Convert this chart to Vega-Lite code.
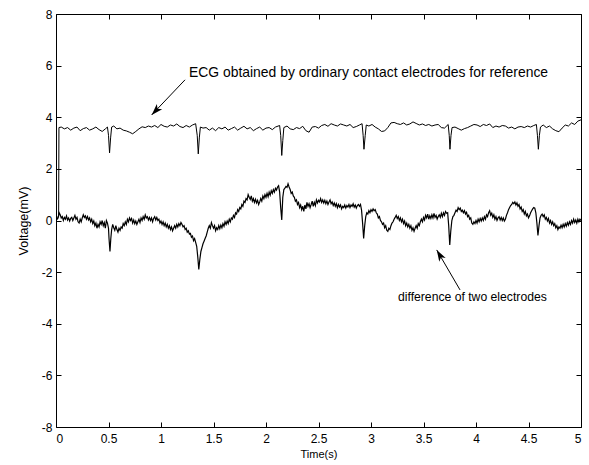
{
"$schema": "https://vega.github.io/schema/vega-lite/v6.json",
"autosize": "none",
"width": 525,
"height": 413,
"padding": {"left": 56, "top": 14, "right": 8, "bottom": 38},
"background": "white",
"config": {
  "view": {"stroke": "black", "strokeWidth": 1},
  "font": "Liberation Sans",
  "axis": {"grid": false, "domain": false, "tickColor": "black", "tickSize": -5, "labelColor": "black", "labelFont": "Liberation Sans", "labelFontSize": 12, "titleFont": "Liberation Sans", "titleFontSize": 11, "titleFontWeight": "normal", "titleColor": "black"}
},
"datasets": {
"ref": [
{"t":0,"v":0.1},{"t":0.025,"v":0.15},{"t":0.028,"v":3.6},{"t":0.05,"v":3.62},{"t":0.08,"v":3.55},{"t":0.11,"v":3.6},{"t":0.14,"v":3.5},{"t":0.17,"v":3.58},{"t":0.2,"v":3.62},{"t":0.23,"v":3.48},{"t":0.26,"v":3.56},{"t":0.29,"v":3.6},{"t":0.32,"v":3.5},{"t":0.35,"v":3.55},{"t":0.38,"v":3.62},{"t":0.41,"v":3.52},{"t":0.44,"v":3.45},{"t":0.47,"v":3.55},{"t":0.49,"v":3.62},{"t":0.5,"v":3.3},{"t":0.51,"v":2.62},{"t":0.52,"v":3.2},{"t":0.53,"v":3.62},{"t":0.55,"v":3.66},{"t":0.58,"v":3.55},{"t":0.61,"v":3.58},{"t":0.64,"v":3.5},{"t":0.67,"v":3.47},{"t":0.7,"v":3.42},{"t":0.73,"v":3.36},{"t":0.76,"v":3.45},{"t":0.79,"v":3.55},{"t":0.82,"v":3.63},{"t":0.85,"v":3.6},{"t":0.88,"v":3.66},{"t":0.91,"v":3.62},{"t":0.94,"v":3.68},{"t":0.97,"v":3.6},{"t":1.0,"v":3.72},{"t":1.03,"v":3.65},{"t":1.06,"v":3.62},{"t":1.09,"v":3.7},{"t":1.12,"v":3.66},{"t":1.15,"v":3.74},{"t":1.18,"v":3.64},{"t":1.21,"v":3.6},{"t":1.24,"v":3.68},{"t":1.27,"v":3.62},{"t":1.3,"v":3.7},{"t":1.33,"v":3.75},{"t":1.345,"v":3.3},{"t":1.355,"v":2.58},{"t":1.365,"v":3.2},{"t":1.375,"v":3.62},{"t":1.4,"v":3.58},{"t":1.43,"v":3.6},{"t":1.46,"v":3.5},{"t":1.49,"v":3.58},{"t":1.52,"v":3.48},{"t":1.55,"v":3.6},{"t":1.58,"v":3.55},{"t":1.61,"v":3.62},{"t":1.64,"v":3.5},{"t":1.67,"v":3.56},{"t":1.7,"v":3.62},{"t":1.73,"v":3.5},{"t":1.76,"v":3.58},{"t":1.79,"v":3.65},{"t":1.82,"v":3.55},{"t":1.85,"v":3.6},{"t":1.88,"v":3.48},{"t":1.91,"v":3.56},{"t":1.94,"v":3.62},{"t":1.97,"v":3.5},{"t":2.0,"v":3.58},{"t":2.03,"v":3.6},{"t":2.06,"v":3.52},{"t":2.09,"v":3.62},{"t":2.13,"v":3.68},{"t":2.14,"v":3.3},{"t":2.15,"v":2.52},{"t":2.16,"v":3.1},{"t":2.17,"v":3.6},{"t":2.2,"v":3.66},{"t":2.23,"v":3.55},{"t":2.26,"v":3.52},{"t":2.29,"v":3.6},{"t":2.32,"v":3.56},{"t":2.35,"v":3.65},{"t":2.38,"v":3.48},{"t":2.41,"v":3.42},{"t":2.44,"v":3.62},{"t":2.47,"v":3.64},{"t":2.5,"v":3.58},{"t":2.53,"v":3.68},{"t":2.56,"v":3.72},{"t":2.59,"v":3.65},{"t":2.62,"v":3.75},{"t":2.65,"v":3.7},{"t":2.68,"v":3.66},{"t":2.71,"v":3.74},{"t":2.74,"v":3.7},{"t":2.77,"v":3.66},{"t":2.8,"v":3.72},{"t":2.83,"v":3.6},{"t":2.86,"v":3.64},{"t":2.89,"v":3.7},{"t":2.915,"v":3.75},{"t":2.925,"v":3.3},{"t":2.933,"v":2.76},{"t":2.945,"v":3.3},{"t":2.955,"v":3.7},{"t":2.98,"v":3.66},{"t":3.01,"v":3.72},{"t":3.04,"v":3.62},{"t":3.07,"v":3.55},{"t":3.1,"v":3.45},{"t":3.13,"v":3.47},{"t":3.16,"v":3.6},{"t":3.19,"v":3.78},{"t":3.22,"v":3.8},{"t":3.25,"v":3.75},{"t":3.28,"v":3.72},{"t":3.31,"v":3.78},{"t":3.34,"v":3.7},{"t":3.37,"v":3.74},{"t":3.4,"v":3.82},{"t":3.43,"v":3.76},{"t":3.46,"v":3.7},{"t":3.49,"v":3.74},{"t":3.52,"v":3.68},{"t":3.55,"v":3.72},{"t":3.58,"v":3.66},{"t":3.61,"v":3.7},{"t":3.64,"v":3.72},{"t":3.67,"v":3.6},{"t":3.7,"v":3.58},{"t":3.735,"v":3.72},{"t":3.745,"v":3.3},{"t":3.752,"v":2.76},{"t":3.762,"v":3.3},{"t":3.772,"v":3.6},{"t":3.8,"v":3.62},{"t":3.83,"v":3.56},{"t":3.86,"v":3.5},{"t":3.89,"v":3.56},{"t":3.92,"v":3.6},{"t":3.95,"v":3.66},{"t":3.98,"v":3.72},{"t":4.01,"v":3.7},{"t":4.04,"v":3.64},{"t":4.07,"v":3.72},{"t":4.1,"v":3.68},{"t":4.13,"v":3.74},{"t":4.16,"v":3.6},{"t":4.19,"v":3.66},{"t":4.22,"v":3.62},{"t":4.25,"v":3.68},{"t":4.28,"v":3.66},{"t":4.31,"v":3.58},{"t":4.34,"v":3.62},{"t":4.37,"v":3.55},{"t":4.4,"v":3.62},{"t":4.43,"v":3.64},{"t":4.46,"v":3.6},{"t":4.49,"v":3.66},{"t":4.52,"v":3.62},{"t":4.55,"v":3.68},{"t":4.575,"v":3.72},{"t":4.585,"v":3.3},{"t":4.594,"v":2.76},{"t":4.604,"v":3.3},{"t":4.614,"v":3.62},{"t":4.64,"v":3.7},{"t":4.67,"v":3.6},{"t":4.7,"v":3.66},{"t":4.73,"v":3.55},{"t":4.76,"v":3.48},{"t":4.79,"v":3.44},{"t":4.82,"v":3.58},{"t":4.85,"v":3.7},{"t":4.88,"v":3.66},{"t":4.91,"v":3.78},{"t":4.94,"v":3.72},{"t":4.97,"v":3.85},{"t":5.0,"v":3.9}
],
"diff": [
{"t":0.0,"v":0.02},{"t":0.01,"v":0.05},{"t":0.02,"v":0.1},{"t":0.03,"v":0.3},{"t":0.04,"v":0.22},{"t":0.05,"v":0.1},{"t":0.06,"v":0.15},{"t":0.07,"v":0.0},{"t":0.08,"v":0.12},{"t":0.09,"v":0.05},{"t":0.1,"v":0.18},{"t":0.11,"v":0.02},{"t":0.12,"v":0.1},{"t":0.13,"v":-0.02},{"t":0.14,"v":0.08},{"t":0.15,"v":0.12},{"t":0.16,"v":0.0},{"t":0.17,"v":0.1},{"t":0.18,"v":0.2},{"t":0.19,"v":0.05},{"t":0.2,"v":0.12},{"t":0.21,"v":-0.05},{"t":0.22,"v":-0.1},{"t":0.23,"v":0.05},{"t":0.24,"v":-0.05},{"t":0.25,"v":0.1},{"t":0.26,"v":0.22},{"t":0.27,"v":0.12},{"t":0.28,"v":0.18},{"t":0.29,"v":0.05},{"t":0.3,"v":0.15},{"t":0.31,"v":0.02},{"t":0.32,"v":0.1},{"t":0.33,"v":-0.05},{"t":0.34,"v":0.05},{"t":0.35,"v":-0.12},{"t":0.36,"v":-0.02},{"t":0.37,"v":-0.2},{"t":0.38,"v":-0.1},{"t":0.39,"v":-0.3},{"t":0.4,"v":-0.15},{"t":0.41,"v":-0.25},{"t":0.42,"v":-0.05},{"t":0.43,"v":-0.15},{"t":0.44,"v":0.0},{"t":0.45,"v":-0.2},{"t":0.46,"v":-0.08},{"t":0.47,"v":-0.3},{"t":0.48,"v":0.0},{"t":0.49,"v":-0.1},{"t":0.5,"v":-0.3},{"t":0.505,"v":-0.7},{"t":0.514,"v":-1.2},{"t":0.522,"v":-0.7},{"t":0.53,"v":-0.35},{"t":0.54,"v":-0.15},{"t":0.55,"v":-0.28},{"t":0.56,"v":-0.38},{"t":0.57,"v":-0.2},{"t":0.58,"v":-0.35},{"t":0.59,"v":-0.45},{"t":0.6,"v":-0.3},{"t":0.61,"v":-0.38},{"t":0.62,"v":-0.25},{"t":0.63,"v":-0.3},{"t":0.64,"v":-0.12},{"t":0.65,"v":-0.2},{"t":0.66,"v":-0.05},{"t":0.67,"v":-0.15},{"t":0.68,"v":0.05},{"t":0.69,"v":-0.05},{"t":0.7,"v":0.1},{"t":0.71,"v":0.0},{"t":0.72,"v":0.08},{"t":0.73,"v":-0.1},{"t":0.74,"v":0.02},{"t":0.75,"v":-0.12},{"t":0.76,"v":-0.02},{"t":0.77,"v":-0.15},{"t":0.78,"v":-0.05},{"t":0.79,"v":0.05},{"t":0.8,"v":-0.08},{"t":0.81,"v":0.1},{"t":0.82,"v":0.0},{"t":0.83,"v":0.15},{"t":0.84,"v":0.05},{"t":0.85,"v":0.22},{"t":0.86,"v":0.1},{"t":0.87,"v":0.15},{"t":0.88,"v":0.02},{"t":0.89,"v":0.12},{"t":0.9,"v":0.0},{"t":0.91,"v":0.1},{"t":0.92,"v":-0.05},{"t":0.93,"v":0.08},{"t":0.94,"v":0.15},{"t":0.95,"v":0.02},{"t":0.96,"v":0.12},{"t":0.97,"v":0.0},{"t":0.98,"v":0.05},{"t":0.99,"v":-0.1},{"t":1.0,"v":-0.02},{"t":1.01,"v":-0.15},{"t":1.02,"v":-0.05},{"t":1.03,"v":-0.2},{"t":1.04,"v":-0.1},{"t":1.05,"v":-0.25},{"t":1.06,"v":-0.15},{"t":1.07,"v":-0.3},{"t":1.08,"v":-0.2},{"t":1.09,"v":-0.35},{"t":1.1,"v":-0.25},{"t":1.11,"v":-0.4},{"t":1.12,"v":-0.3},{"t":1.13,"v":-0.2},{"t":1.14,"v":-0.3},{"t":1.15,"v":-0.15},{"t":1.16,"v":-0.25},{"t":1.17,"v":-0.12},{"t":1.18,"v":-0.2},{"t":1.19,"v":-0.08},{"t":1.2,"v":-0.15},{"t":1.21,"v":-0.25},{"t":1.22,"v":-0.2},{"t":1.23,"v":-0.35},{"t":1.24,"v":-0.3},{"t":1.25,"v":-0.45},{"t":1.26,"v":-0.4},{"t":1.27,"v":-0.52},{"t":1.28,"v":-0.5},{"t":1.29,"v":-0.65},{"t":1.3,"v":-0.6},{"t":1.31,"v":-0.78},{"t":1.32,"v":-0.7},{"t":1.33,"v":-0.85},{"t":1.34,"v":-1.0},{"t":1.35,"v":-1.4},{"t":1.36,"v":-1.9},{"t":1.37,"v":-1.5},{"t":1.38,"v":-1.2},{"t":1.39,"v":-1.05},{"t":1.4,"v":-0.9},{"t":1.41,"v":-0.8},{"t":1.42,"v":-0.7},{"t":1.43,"v":-0.6},{"t":1.44,"v":-0.45},{"t":1.45,"v":-0.3},{"t":1.46,"v":-0.2},{"t":1.47,"v":-0.3},{"t":1.48,"v":-0.08},{"t":1.49,"v":-0.2},{"t":1.5,"v":-0.3},{"t":1.51,"v":-0.2},{"t":1.52,"v":-0.4},{"t":1.53,"v":-0.28},{"t":1.54,"v":-0.35},{"t":1.55,"v":-0.2},{"t":1.56,"v":-0.32},{"t":1.57,"v":-0.18},{"t":1.58,"v":-0.28},{"t":1.59,"v":-0.12},{"t":1.6,"v":-0.22},{"t":1.61,"v":-0.05},{"t":1.62,"v":-0.15},{"t":1.63,"v":-0.02},{"t":1.64,"v":-0.12},{"t":1.65,"v":0.05},{"t":1.66,"v":-0.05},{"t":1.67,"v":0.1},{"t":1.68,"v":0.05},{"t":1.69,"v":0.2},{"t":1.7,"v":0.12},{"t":1.71,"v":0.3},{"t":1.72,"v":0.25},{"t":1.73,"v":0.42},{"t":1.74,"v":0.35},{"t":1.75,"v":0.5},{"t":1.76,"v":0.45},{"t":1.77,"v":0.62},{"t":1.78,"v":0.55},{"t":1.79,"v":0.75},{"t":1.8,"v":0.7},{"t":1.81,"v":0.85},{"t":1.82,"v":0.8},{"t":1.83,"v":1.0},{"t":1.84,"v":0.9},{"t":1.85,"v":0.82},{"t":1.86,"v":0.95},{"t":1.87,"v":0.75},{"t":1.88,"v":0.85},{"t":1.89,"v":0.7},{"t":1.9,"v":0.82},{"t":1.91,"v":0.68},{"t":1.92,"v":0.78},{"t":1.93,"v":0.62},{"t":1.94,"v":0.72},{"t":1.95,"v":0.85},{"t":1.96,"v":0.75},{"t":1.97,"v":0.95},{"t":1.98,"v":0.85},{"t":1.99,"v":1.0},{"t":2.0,"v":0.9},{"t":2.01,"v":1.05},{"t":2.02,"v":0.92},{"t":2.03,"v":1.1},{"t":2.04,"v":0.98},{"t":2.05,"v":1.15},{"t":2.06,"v":1.05},{"t":2.07,"v":1.2},{"t":2.08,"v":1.1},{"t":2.09,"v":1.25},{"t":2.1,"v":1.18},{"t":2.11,"v":1.3},{"t":2.12,"v":1.35},{"t":2.13,"v":1.1},{"t":2.14,"v":0.5},{"t":2.15,"v":0.02},{"t":2.16,"v":0.9},{"t":2.17,"v":1.2},{"t":2.18,"v":1.25},{"t":2.19,"v":1.32},{"t":2.2,"v":1.28},{"t":2.21,"v":1.42},{"t":2.22,"v":1.3},{"t":2.23,"v":1.2},{"t":2.24,"v":1.05},{"t":2.25,"v":1.1},{"t":2.26,"v":0.95},{"t":2.27,"v":0.9},{"t":2.28,"v":0.75},{"t":2.29,"v":0.8},{"t":2.3,"v":0.62},{"t":2.31,"v":0.7},{"t":2.32,"v":0.5},{"t":2.33,"v":0.6},{"t":2.34,"v":0.42},{"t":2.35,"v":0.55},{"t":2.36,"v":0.35},{"t":2.37,"v":0.6},{"t":2.38,"v":0.45},{"t":2.39,"v":0.7},{"t":2.4,"v":0.55},{"t":2.41,"v":0.65},{"t":2.42,"v":0.5},{"t":2.43,"v":0.62},{"t":2.44,"v":0.75},{"t":2.45,"v":0.55},{"t":2.46,"v":0.7},{"t":2.47,"v":0.58},{"t":2.48,"v":0.8},{"t":2.49,"v":0.68},{"t":2.5,"v":0.78},{"t":2.51,"v":0.72},{"t":2.52,"v":0.85},{"t":2.53,"v":0.7},{"t":2.54,"v":0.8},{"t":2.55,"v":0.68},{"t":2.56,"v":0.78},{"t":2.57,"v":0.65},{"t":2.58,"v":0.75},{"t":2.59,"v":0.62},{"t":2.6,"v":0.72},{"t":2.61,"v":0.8},{"t":2.62,"v":0.65},{"t":2.63,"v":0.72},{"t":2.64,"v":0.58},{"t":2.65,"v":0.68},{"t":2.66,"v":0.55},{"t":2.67,"v":0.65},{"t":2.68,"v":0.5},{"t":2.69,"v":0.62},{"t":2.7,"v":0.52},{"t":2.71,"v":0.6},{"t":2.72,"v":0.45},{"t":2.73,"v":0.55},{"t":2.74,"v":0.5},{"t":2.75,"v":0.6},{"t":2.76,"v":0.48},{"t":2.77,"v":0.58},{"t":2.78,"v":0.52},{"t":2.79,"v":0.62},{"t":2.8,"v":0.5},{"t":2.81,"v":0.6},{"t":2.82,"v":0.55},{"t":2.83,"v":0.65},{"t":2.84,"v":0.52},{"t":2.85,"v":0.6},{"t":2.86,"v":0.48},{"t":2.87,"v":0.58},{"t":2.88,"v":0.62},{"t":2.89,"v":0.55},{"t":2.9,"v":0.62},{"t":2.91,"v":0.4},{"t":2.92,"v":-0.1},{"t":2.93,"v":-0.7},{"t":2.94,"v":-0.2},{"t":2.95,"v":0.15},{"t":2.96,"v":0.3},{"t":2.97,"v":0.25},{"t":2.98,"v":0.38},{"t":2.99,"v":0.3},{"t":3.0,"v":0.42},{"t":3.01,"v":0.35},{"t":3.02,"v":0.45},{"t":3.03,"v":0.38},{"t":3.04,"v":0.42},{"t":3.05,"v":0.3},{"t":3.06,"v":0.25},{"t":3.07,"v":0.1},{"t":3.08,"v":0.15},{"t":3.09,"v":0.0},{"t":3.1,"v":-0.05},{"t":3.11,"v":-0.15},{"t":3.12,"v":-0.1},{"t":3.13,"v":-0.28},{"t":3.14,"v":-0.2},{"t":3.15,"v":-0.38},{"t":3.16,"v":-0.42},{"t":3.17,"v":-0.3},{"t":3.18,"v":-0.35},{"t":3.19,"v":-0.2},{"t":3.2,"v":-0.1},{"t":3.21,"v":-0.05},{"t":3.22,"v":0.05},{"t":3.23,"v":0.12},{"t":3.24,"v":0.2},{"t":3.25,"v":0.08},{"t":3.26,"v":0.15},{"t":3.27,"v":0.0},{"t":3.28,"v":0.1},{"t":3.29,"v":-0.05},{"t":3.3,"v":0.05},{"t":3.31,"v":-0.12},{"t":3.32,"v":-0.02},{"t":3.33,"v":-0.2},{"t":3.34,"v":-0.1},{"t":3.35,"v":-0.25},{"t":3.36,"v":-0.15},{"t":3.37,"v":-0.3},{"t":3.38,"v":-0.2},{"t":3.39,"v":-0.38},{"t":3.4,"v":-0.28},{"t":3.41,"v":-0.42},{"t":3.42,"v":-0.3},{"t":3.43,"v":-0.2},{"t":3.44,"v":-0.3},{"t":3.45,"v":-0.12},{"t":3.46,"v":-0.2},{"t":3.47,"v":-0.05},{"t":3.48,"v":0.05},{"t":3.49,"v":-0.05},{"t":3.5,"v":0.12},{"t":3.51,"v":0.02},{"t":3.52,"v":0.2},{"t":3.53,"v":0.1},{"t":3.54,"v":0.25},{"t":3.55,"v":0.05},{"t":3.56,"v":0.18},{"t":3.57,"v":0.08},{"t":3.58,"v":0.22},{"t":3.59,"v":0.1},{"t":3.6,"v":0.28},{"t":3.61,"v":0.12},{"t":3.62,"v":0.2},{"t":3.63,"v":0.05},{"t":3.64,"v":0.15},{"t":3.65,"v":0.22},{"t":3.66,"v":0.12},{"t":3.67,"v":0.28},{"t":3.68,"v":0.15},{"t":3.69,"v":0.3},{"t":3.7,"v":0.2},{"t":3.71,"v":0.35},{"t":3.72,"v":0.28},{"t":3.73,"v":0.3},{"t":3.74,"v":-0.2},{"t":3.75,"v":-0.95},{"t":3.76,"v":-0.4},{"t":3.77,"v":0.0},{"t":3.78,"v":0.15},{"t":3.79,"v":0.2},{"t":3.8,"v":0.3},{"t":3.81,"v":0.4},{"t":3.82,"v":0.35},{"t":3.83,"v":0.5},{"t":3.84,"v":0.42},{"t":3.85,"v":0.48},{"t":3.86,"v":0.35},{"t":3.87,"v":0.4},{"t":3.88,"v":0.3},{"t":3.89,"v":0.38},{"t":3.9,"v":0.25},{"t":3.91,"v":0.32},{"t":3.92,"v":0.15},{"t":3.93,"v":0.2},{"t":3.94,"v":0.05},{"t":3.95,"v":0.1},{"t":3.96,"v":-0.1},{"t":3.97,"v":-0.15},{"t":3.98,"v":-0.05},{"t":3.99,"v":-0.12},{"t":4.0,"v":0.0},{"t":4.01,"v":-0.1},{"t":4.02,"v":0.05},{"t":4.03,"v":-0.05},{"t":4.04,"v":0.08},{"t":4.05,"v":-0.02},{"t":4.06,"v":0.1},{"t":4.07,"v":0.0},{"t":4.08,"v":0.15},{"t":4.09,"v":0.05},{"t":4.1,"v":0.22},{"t":4.11,"v":0.15},{"t":4.12,"v":0.3},{"t":4.13,"v":0.38},{"t":4.14,"v":0.2},{"t":4.15,"v":0.28},{"t":4.16,"v":0.12},{"t":4.17,"v":0.22},{"t":4.18,"v":0.05},{"t":4.19,"v":0.15},{"t":4.2,"v":0.0},{"t":4.21,"v":0.1},{"t":4.22,"v":0.15},{"t":4.23,"v":0.02},{"t":4.24,"v":0.12},{"t":4.25,"v":0.0},{"t":4.26,"v":0.1},{"t":4.27,"v":-0.02},{"t":4.28,"v":0.05},{"t":4.29,"v":0.2},{"t":4.3,"v":0.3},{"t":4.31,"v":0.42},{"t":4.32,"v":0.5},{"t":4.33,"v":0.58},{"t":4.34,"v":0.62},{"t":4.35,"v":0.7},{"t":4.36,"v":0.65},{"t":4.37,"v":0.72},{"t":4.38,"v":0.6},{"t":4.39,"v":0.68},{"t":4.4,"v":0.55},{"t":4.41,"v":0.62},{"t":4.42,"v":0.45},{"t":4.43,"v":0.52},{"t":4.44,"v":0.35},{"t":4.45,"v":0.42},{"t":4.46,"v":0.25},{"t":4.47,"v":0.35},{"t":4.48,"v":0.18},{"t":4.49,"v":0.25},{"t":4.5,"v":0.1},{"t":4.51,"v":0.18},{"t":4.52,"v":0.3},{"t":4.53,"v":0.38},{"t":4.54,"v":0.45},{"t":4.55,"v":0.5},{"t":4.56,"v":0.48},{"t":4.57,"v":0.3},{"t":4.58,"v":-0.1},{"t":4.59,"v":-0.58},{"t":4.6,"v":-0.2},{"t":4.61,"v":0.1},{"t":4.62,"v":0.2},{"t":4.63,"v":0.25},{"t":4.64,"v":0.15},{"t":4.65,"v":0.22},{"t":4.66,"v":0.05},{"t":4.67,"v":0.12},{"t":4.68,"v":-0.02},{"t":4.69,"v":0.08},{"t":4.7,"v":-0.1},{"t":4.71,"v":0.0},{"t":4.72,"v":-0.15},{"t":4.73,"v":-0.05},{"t":4.74,"v":-0.2},{"t":4.75,"v":-0.12},{"t":4.76,"v":-0.28},{"t":4.77,"v":-0.2},{"t":4.78,"v":-0.35},{"t":4.79,"v":-0.25},{"t":4.8,"v":-0.3},{"t":4.81,"v":-0.18},{"t":4.82,"v":-0.28},{"t":4.83,"v":-0.15},{"t":4.84,"v":-0.25},{"t":4.85,"v":-0.12},{"t":4.86,"v":-0.22},{"t":4.87,"v":-0.08},{"t":4.88,"v":-0.18},{"t":4.89,"v":-0.05},{"t":4.9,"v":-0.15},{"t":4.91,"v":0.0},{"t":4.92,"v":-0.1},{"t":4.93,"v":0.05},{"t":4.94,"v":-0.08},{"t":4.95,"v":0.02},{"t":4.96,"v":-0.1},{"t":4.97,"v":0.05},{"t":4.98,"v":-0.05},{"t":4.99,"v":0.05},{"t":5.0,"v":0.0}
],
"arrows": [
{"t":1.229,"v":5.45,"t2":0.911,"v2":4.09,"angle":223.6},
{"t":3.848,"v":-2.69,"t2":3.626,"v2":-1.14,"angle":329.8}
]
},
"layer": [
{
  "data": {"name": "diff"},
  "mark": {"type": "line", "color": "black", "strokeWidth": 1.2, "clip": true},
  "encoding": {
    "x": {"field": "t", "type": "quantitative", "scale": {"domain": [0, 5], "nice": false, "zero": false},
      "axis": {"orient": "bottom", "values": [0,0.5,1,1.5,2,2.5,3,3.5,4,4.5,5], "labelExpr": "toString(datum.value)", "labelPadding": 11, "title": "Time(s)", "titlePadding": 4}},
    "y": {"field": "v", "type": "quantitative", "scale": {"domain": [-8, 8], "nice": false, "zero": false},
      "axis": {"orient": "left", "values": [-8,-6,-4,-2,0,2,4,6,8], "labelExpr": "toString(datum.value)", "labelPadding": 9, "title": "Voltage(mV)", "titleFontSize": 12.5, "titlePadding": 11}}
  }
},
{
  "data": {"name": "ref"},
  "mark": {"type": "line", "color": "black", "strokeWidth": 1, "clip": true},
  "encoding": {
    "x": {"field": "t", "type": "quantitative", "axis": null},
    "y": {"field": "v", "type": "quantitative", "axis": null}
  }
},
{
  "data": {"name": "arrows"},
  "mark": {"type": "rule", "color": "black", "strokeWidth": 1},
  "encoding": {
    "x": {"field": "t", "type": "quantitative", "axis": null},
    "y": {"field": "v", "type": "quantitative", "axis": null},
    "x2": {"field": "t2"},
    "y2": {"field": "v2"}
  }
},
{
  "data": {"name": "arrows"},
  "mark": {"type": "point", "shape": "M0,0L-0.65,2L0,1.5L0.65,2Z", "filled": true, "color": "black", "opacity": 1, "size": 130},
  "encoding": {
    "x": {"field": "t2", "type": "quantitative", "axis": null},
    "y": {"field": "v2", "type": "quantitative", "axis": null},
    "angle": {"field": "angle", "type": "quantitative", "scale": null}
  }
},
{
  "data": {"values": [{"t": 1.267, "v": 5.72, "label": "ECG obtained by ordinary contact electrodes for reference"}]},
  "mark": {"type": "text", "align": "left", "baseline": "middle", "font": "Liberation Sans", "fontSize": 13.9, "color": "black"},
  "encoding": {
    "x": {"field": "t", "type": "quantitative", "axis": null},
    "y": {"field": "v", "type": "quantitative", "axis": null},
    "text": {"field": "label"}
  }
},
{
  "data": {"values": [{"t": 3.257, "v": -2.97, "label": "difference of two electrodes"}]},
  "mark": {"type": "text", "align": "left", "baseline": "middle", "font": "Liberation Sans", "fontSize": 12.2, "color": "black"},
  "encoding": {
    "x": {"field": "t", "type": "quantitative", "axis": null},
    "y": {"field": "v", "type": "quantitative", "axis": null},
    "text": {"field": "label"}
  }
},
{
  "data": {"values": [{"t": 0, "v": 0}]},
  "mark": {"type": "point", "opacity": 0},
  "encoding": {
    "x": {"field": "t", "type": "quantitative", "axis": {"orient": "top", "values": [0,0.5,1,1.5,2,2.5,3,3.5,4,4.5,5], "labels": false, "title": null}},
    "y": {"field": "v", "type": "quantitative", "axis": {"orient": "right", "values": [-8,-6,-4,-2,0,2,4,6,8], "labels": false, "title": null}}
  }
}
],
"resolve": {"axis": {"x": "independent", "y": "independent"}}
}
